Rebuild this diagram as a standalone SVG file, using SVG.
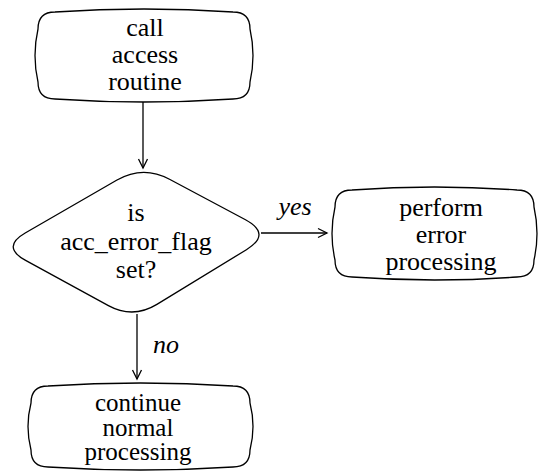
<svg xmlns="http://www.w3.org/2000/svg" width="540" height="471" viewBox="0 0 540 471">
<style>
.shape{fill:#fff;stroke:#000;stroke-width:1.3}
.t{font-family:'Liberation Serif','Times New Roman',serif;font-size:26px;fill:#000;text-anchor:middle}
.s{font-size:25px}
.lbl{font-family:'Liberation Serif','Times New Roman',serif;font-size:26px;font-style:italic;fill:#000}
.conn{stroke:#000;stroke-width:1.3;fill:none}
</style>
<defs>
<marker id="arr" markerUnits="userSpaceOnUse" markerWidth="12" markerHeight="12" refX="10" refY="6" orient="auto">
<path d="M1,1.5 L10,6 L1,10.5" fill="none" stroke="#000" stroke-width="1.3"/>
</marker>
</defs>
<g id="connectors">
<line class="conn" x1="143" y1="102" x2="143" y2="168" marker-end="url(#arr)"/>
<line class="conn" x1="261" y1="233" x2="327" y2="233" marker-end="url(#arr)"/>
<line class="conn" x1="137" y1="314" x2="137" y2="379" marker-end="url(#arr)"/>
<text class="lbl" x="295" y="215" text-anchor="middle">yes</text>
<text class="lbl" x="153" y="353">no</text>
</g>
<g id="call">
<path class="shape" d="M55,12 Q144,6 233,12 Q250,12 250,29 Q256,55.5 250,82 Q250,99 233,99 Q144,105 55,99 Q38,99 38,82 Q32,55.5 38,29 Q38,12 55,12 Z"/>
<text class="t" x="145" y="36">call</text>
<text class="t" x="145" y="63">access</text>
<text class="t" x="145" y="90">routine</text>
</g>
<g id="decision">
<path class="shape" d="M117,180 Q143,165 169.5,179.2 L245.5,219.8 Q272,234 246.4,249.7 L156.9,304.4 Q133,319 108.4,305.6 L25.6,260.4 Q1,247 25.2,233 Z"/>
<text class="t" x="136" y="221">is</text>
<text class="t" x="136" y="250">acc_error_flag</text>
<text class="t" x="136" y="278">set?</text>
</g>
<g id="perform">
<path class="shape" d="M352,190 Q434.5,184 517,190 Q534,190 534,207 Q540,233.5 534,260 Q534,277 517,277 Q434.5,283 352,277 Q335,277 335,260 Q329,233.5 335,207 Q335,190 352,190 Z"/>
<text class="t" x="441" y="216">perform</text>
<text class="t" x="441" y="243">error</text>
<text class="t" x="441" y="270">processing</text>
</g>
<g id="continue">
<path class="shape" d="M48,386 Q140.5,380 233,386 Q250,386 250,403 Q256,426.5 250,450 Q250,467 233,467 Q140.5,473 48,467 Q31,467 31,450 Q25,426.5 31,403 Q31,386 48,386 Z"/>
<text class="t s" x="138" y="411">continue</text>
<text class="t s" x="138" y="435.5">normal</text>
<text class="t s" x="138" y="460">processing</text>
</g>
</svg>
